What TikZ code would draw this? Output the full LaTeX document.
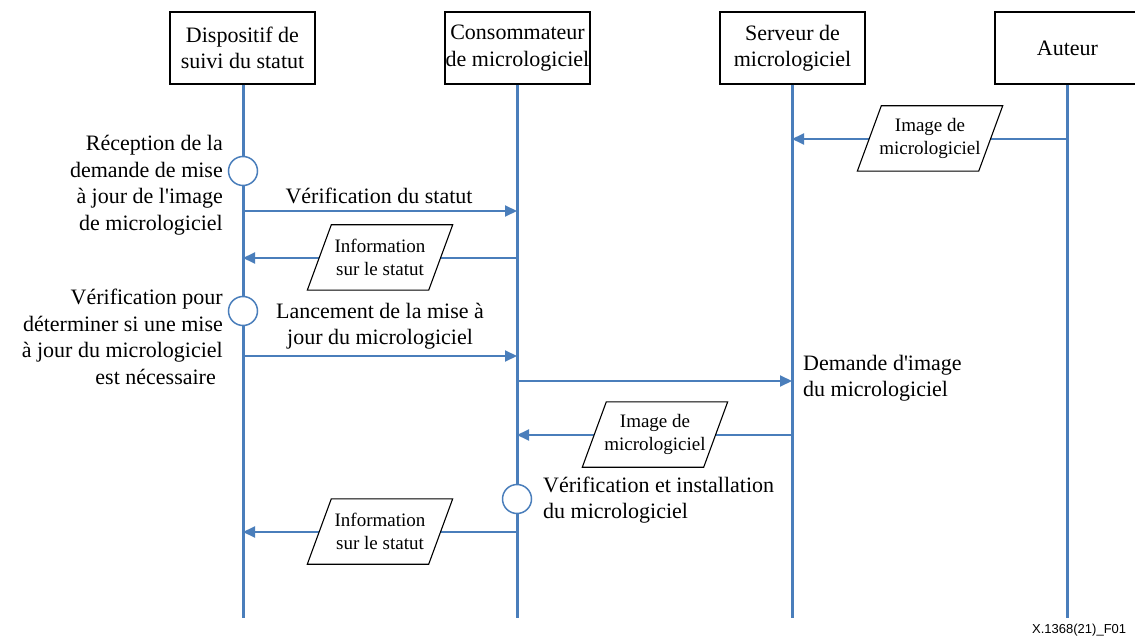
\documentclass[tikz,border=0pt]{standalone}
\usepackage{fontspec}
\setmainfont{Liberation Serif}[Ligatures=TeXOff]
\newfontfamily\footfont{Liberation Sans}
\usetikzlibrary{arrows.meta}
\definecolor{lblue}{RGB}{74,126,187}
\tikzset{
  actor/.style={draw=black, line width=1.1pt, fill=white, minimum width=145pt, minimum height=72pt, align=center, inner sep=0pt, font=\fontsize{22}{26.5}\selectfont},
  life/.style={draw=lblue, line width=3pt},
  msg/.style={draw=lblue, line width=2pt, -{Triangle[length=12pt,width=11pt]}},
  evt/.style={circle, draw=lblue, fill=white, line width=1.5pt, minimum size=29pt, inner sep=0pt},
  pbox/.style={minimum width=121pt, minimum height=65pt, inner sep=0pt, align=center, font=\fontsize{19}{23}\selectfont},
  pline/.style={draw=black, line width=1.1pt, fill=white},
  lbl/.style={inner sep=0pt, font=\fontsize{22}{26.5}\selectfont},
}
\newcommand{\parabox}[4]{%
  \node[pbox] (#1) at (#2,#3) {};
  \draw[pline] ([xshift=12pt]#1.north west) -- ([xshift=12pt]#1.north east) -- ([xshift=-12pt]#1.south east) -- ([xshift=-12pt]#1.south west) -- cycle;
  \node[pbox] at (#1.center) {#4};
}
\begin{document}
\begin{tikzpicture}[x=1pt,y=-1pt]
\useasboundingbox (0,0) rectangle (1135,636);
% actors
\node[actor] (a1) at (242.5,48) {Dispositif de\\suivi du statut};
\node[actor] (a2) at (517.5,48) {Consommateur\\de micrologiciel};
\node[actor] (a3) at (792.5,48) {Serveur de\\micrologiciel};
\node[actor] (a4) at (1067.5,48) {Auteur};
% lifeline ends
\coordinate (e1) at (243,618);
\coordinate (e2) at (517,618);
\coordinate (e3) at (792,618);
\coordinate (e4) at (1067,618);
\draw[life] (a1.south -| e1) -- (e1);
\draw[life] (a2.south -| e2) -- (e2);
\draw[life] (a3.south -| e3) -- (e3);
\draw[life] (a4.south -| e4) -- (e4);
% message anchor points
\coordinate (m1a) at (1067,139); \coordinate (m1b) at (792,139);
\coordinate (m2a) at (243,211); \coordinate (m2b) at (517,211);
\coordinate (m3a) at (517,258); \coordinate (m3b) at (243,258);
\coordinate (m4a) at (243,356); \coordinate (m4b) at (517,356);
\coordinate (m5a) at (517,381); \coordinate (m5b) at (792,381);
\coordinate (m6a) at (792,435); \coordinate (m6b) at (517,435);
\coordinate (m7a) at (517,532); \coordinate (m7b) at (243,532);
\draw[msg] (m1a) -- (m1b);
\draw[msg] (m2a) -- (m2b);
\draw[msg] (m3a) -- (m3b);
\draw[msg] (m4a) -- (m4b);
\draw[msg] (m5a) -- (m5b);
\draw[msg] (m6a) -- (m6b);
\draw[msg] (m7a) -- (m7b);
% events
\node[evt] (c1) at (243,171) {};
\node[evt] (c2) at (243,311) {};
\node[evt] (c3) at (517,499) {};
% data parallelograms
\parabox{p1}{930}{138.5}{Image de\\micrologiciel}
\parabox{p2}{380}{257.5}{Information\\sur le statut}
\parabox{p3}{655}{434.5}{Image de\\micrologiciel}
\parabox{p4}{380}{531.5}{Information\\sur le statut}
% labels
\node[lbl, anchor=east, align=right] (t1) at (223,185) {Réception de la\\demande de mise\\à jour de l'image\\de micrologiciel};
\node[lbl, anchor=east, align=right] (t2) at (223,337) {Vérification pour\\déterminer si une mise\\à jour du micrologiciel\\est nécessaire\hspace*{7pt}};
\node[lbl] (t3) at (379,196) {Vérification du statut};
\node[lbl, align=center] (t4) at (380,326) {Lancement de la mise à\\jour du micrologiciel};
\node[lbl, anchor=west, align=left] (t5) at (803,378) {Demande d'image\\du micrologiciel};
\node[lbl, anchor=west, align=left] (t6) at (543,500) {Vérification et installation\\du micrologiciel};
\node[inner sep=0pt, anchor=base west, font=\footfont\fontsize{13}{15}\selectfont] (ft) at (1032,633) {X.1368(21)\_F01};
\end{tikzpicture}
\end{document}
